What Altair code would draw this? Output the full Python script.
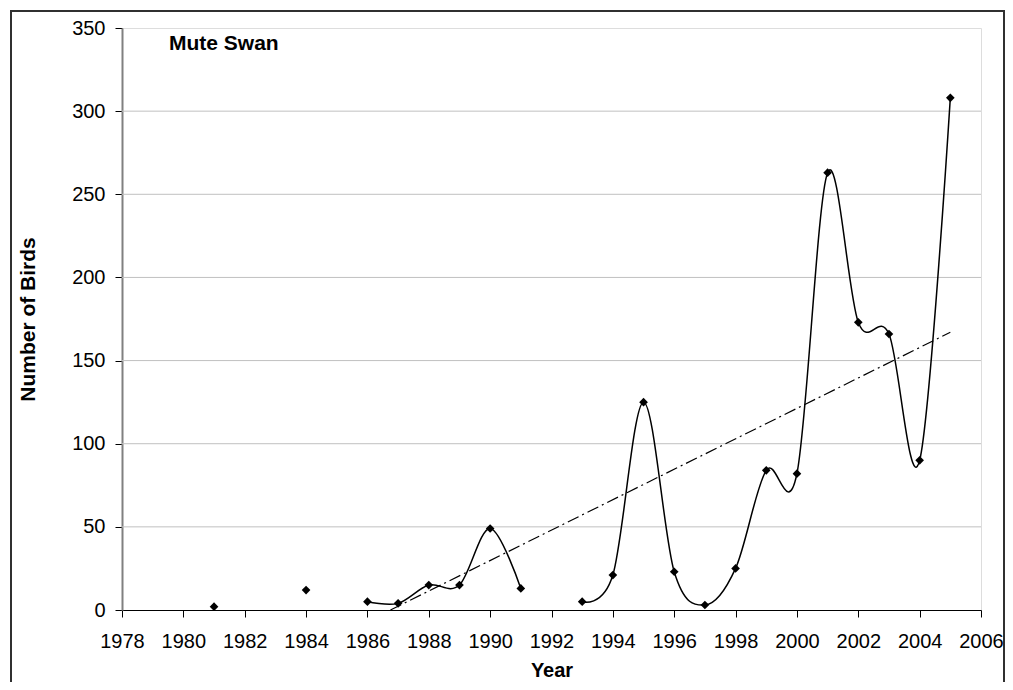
import altair as alt
import pandas as pd

years = [1981, 1984, 1986, 1987, 1988, 1989, 1990, 1991, 1993, 1994, 1995, 1996,
         1997, 1998, 1999, 2000, 2001, 2002, 2003, 2004, 2005]
birds = [2, 12, 5, 4, 15, 15, 49, 13, 5, 21, 125, 23, 3, 25, 84, 82, 263, 173, 166, 90, 308]
# consecutive runs joined by the smoothed line (isolated points have their own run)
segment = ["a", "b", "c", "c", "c", "c", "c", "c", "d", "d", "d", "d",
           "d", "d", "d", "d", "d", "d", "d", "d", "d"]

trend_years = [1986.75, 2005]
trend_values = [0, 167]

grid_values = [50, 100, 150, 200, 250, 300]
x_ticks = list(range(1978, 2007, 2))
y_ticks = [0, 50, 100, 150, 200, 250, 300, 350]

df = pd.DataFrame({"Year": years, "Birds": birds, "seg": segment})
trend_df = pd.DataFrame({"Year": trend_years, "Birds": trend_values})
grid_df = pd.DataFrame({"g": grid_values})

W, H = 859, 582
FONT = "Liberation Sans"

xscale = alt.Scale(domain=[1978, 2006], nice=False, zero=False)
yscale = alt.Scale(domain=[0, 350], nice=False)

x_axis = alt.Axis(values=x_ticks, format="d", title="Year", grid=False,
                  domainColor="black", domainWidth=1, tickColor="black", tickSize=7,
                  labelFontSize=20, labelPadding=14, labelFont=FONT, labelColor="black",
                  titleFont=FONT, titleFontSize=20, titleFontWeight="bold", titleColor="black",
                  titleX=W / 2, titleY=66, titleBaseline="alphabetic", labelFlush=False)
y_axis = alt.Axis(values=y_ticks, title="Number of Birds", grid=False,
                  domainColor="#808080", domainWidth=2, tickColor="black", tickSize=7,
                  labelFontSize=20, labelPadding=10, labelFont=FONT, labelColor="black",
                  titleFont=FONT, titleFontSize=21, titleFontWeight="bold", titleColor="black",
                  titleX=-94, titleY=H / 2, titleAngle=270, titleBaseline="middle",
                  titleAlign="center")

grid = alt.Chart(grid_df).mark_rule(color="#c0c0c0", strokeWidth=1).encode(
    y=alt.Y("g:Q", scale=yscale, axis=y_axis)
)

line = alt.Chart(df).mark_line(interpolate="cardinal", tension=0, color="black",
                               strokeWidth=1.5).encode(
    x=alt.X("Year:Q", scale=xscale, axis=x_axis),
    y=alt.Y("Birds:Q", scale=yscale, axis=y_axis),
    detail="seg:N",
)

points = alt.Chart(df).mark_point(shape="diamond", filled=True, size=75, color="black",
                                  opacity=1).encode(
    x=alt.X("Year:Q", scale=xscale),
    y=alt.Y("Birds:Q", scale=yscale),
)

trend = alt.Chart(trend_df).mark_line(color="black", strokeWidth=1.2,
                                      strokeDash=[12, 4, 2, 4]).encode(
    x=alt.X("Year:Q", scale=xscale),
    y=alt.Y("Birds:Q", scale=yscale),
)

title_text = alt.Chart(pd.DataFrame({"t": ["Mute Swan"]})).mark_text(
    font=FONT, fontSize=21, fontWeight="bold", align="left", baseline="alphabetic",
    color="black"
).encode(x=alt.value(47), y=alt.value(22), text="t:N")

border = alt.Chart(pd.DataFrame({"b": [1]})).mark_rect(
    fill=None, filled=False, stroke="#303030", strokeWidth=2, clip=False
).encode(x=alt.value(-111), x2=alt.value(882), y=alt.value(-17), y2=alt.value(700))

chart = alt.layer(grid, trend, line, points, title_text, border).properties(
    width=W, height=H,
    autosize=alt.AutoSizeParams(type="none"),
    padding={"left": 114, "top": 20, "right": 24, "bottom": 72},
).configure_view(stroke=None).configure(background="white")

chart.save("out.html", embed_options={"renderer": "svg", "actions": False})
